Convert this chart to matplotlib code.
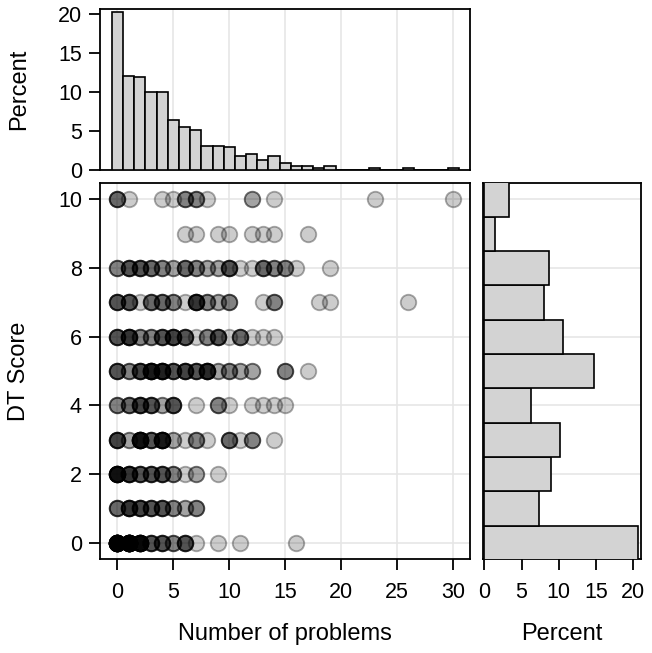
import numpy as np
import matplotlib
matplotlib.use("Agg")
import matplotlib.pyplot as plt

plt.rcParams['font.family'] = ['Liberation Sans', 'DejaVu Sans']

# Top histogram: percent of cases by number of problems (bins of width 1)
problems_bins = list(range(31))
problems_pct = [20.3, 12.1, 11.9, 10.0, 10.0, 6.4, 5.5, 5.2, 3.1, 3.1,
                2.9, 1.8, 2.0, 1.3, 1.8, 0.95, 0.45, 0.45, 0.2, 0.45,
                0, 0, 0, 0.2, 0, 0, 0.2, 0, 0, 0, 0.2]

# Right histogram: percent of cases by DT score
score_bins = list(range(11))
score_pct = [20.7, 7.3, 8.9, 10.2, 6.3, 14.7, 10.6, 8.05, 8.7, 1.45, 3.3]

# Scatter: (score, number of problems, number of overlapping cases)
dot_score = ([10] * 11 + [9] * 8 + [8] * 18 + [7] * 16 + [6] * 15 + [5] * 15
             + [4] * 13 + [3] * 13 + [2] * 9 + [1] * 8 + [0] * 11)
dot_problems = [0, 1, 4, 5, 6, 7, 8, 12, 14, 23, 30,
                6, 7, 9, 10, 12, 13, 14, 17,
                0, 1, 2, 3, 4, 5, 6, 7, 8, 9, 10, 11, 12, 13, 14, 15, 16, 19,
                0, 1, 2, 3, 4, 5, 6, 7, 8, 9, 10, 13, 14, 18, 19, 26,
                0, 1, 2, 3, 4, 5, 6, 7, 8, 9, 10, 11, 12, 13, 14,
                0, 1, 2, 3, 4, 5, 6, 7, 8, 9, 10, 11, 12, 15, 17,
                0, 1, 2, 3, 4, 5, 7, 9, 10, 12, 13, 14, 15,
                0, 1, 2, 3, 4, 5, 6, 7, 8, 10, 11, 12, 14,
                0, 1, 2, 3, 4, 5, 6, 7, 9,
                0, 1, 2, 3, 4, 5, 6, 7,
                0, 1, 2, 3, 4, 5, 6, 7, 9, 11, 16]
dot_count = [4, 1, 1, 1, 3, 3, 1, 2, 1, 1, 1,
             1, 1, 1, 1, 1, 1, 1, 1,
             3, 5, 5, 4, 3, 2, 4, 3, 2, 2, 5, 1, 1, 4, 3, 3, 1, 1,
             5, 5, 1, 4, 4, 3, 1, 7, 3, 2, 3, 1, 3, 1, 1, 1,
             5, 7, 3, 3, 5, 6, 5, 1, 3, 5, 1, 4, 1, 1, 1,
             5, 3, 6, 10, 9, 5, 6, 5, 8, 2, 3, 2, 2, 3, 1,
             3, 4, 6, 5, 2, 5, 1, 3, 1, 1, 1, 1, 1,
             6, 2, 12, 5, 10, 2, 1, 3, 1, 4, 1, 3, 1,
             12, 7, 5, 5, 5, 3, 1, 2, 1,
             4, 7, 6, 5, 5, 3, 2, 3,
             30, 28, 15, 5, 5, 3, 5, 1, 1, 1, 1]

W, H = 652, 653
fig = plt.figure(figsize=(W / 100, H / 100), dpi=100)

def rect(left, top, right, bottom):
    return [left / W, 1 - bottom / H, (right - left) / W, (bottom - top) / H]

ax = fig.add_axes(rect(100, 183.3, 470, 559.3))
ax_top = fig.add_axes(rect(100, 9.3, 470, 170))
ax_right = fig.add_axes(rect(483.3, 183.3, 640.7, 559.3))

grid_col = '#e6e6e6'
bar_col = '#d3d3d3'
for a in (ax, ax_top, ax_right):
    for s in a.spines.values():
        s.set_linewidth(1.3)
        s.set_color('black')
    a.tick_params(direction='out', length=8, width=1.3, labelsize=15.5, pad=5)
    a.tick_params(axis='x', pad=8)
    a.set_axisbelow(True)

# main scatter
xs = np.repeat(dot_problems, dot_count)
ys = np.repeat(dot_score, dot_count)
ax.scatter(xs, ys, s=125, facecolor=(0, 0, 0, 0.2), edgecolor=(0, 0, 0, 0.33),
           linewidth=1.3, zorder=3)
ax.set_xlim(-1.55, 31.5)
ax.set_ylim(-0.48, 10.47)
ax.set_xticks([0, 5, 10, 15, 20, 25, 30])
ax.set_yticks([0, 2, 4, 6, 8, 10])
ax.grid(True, color=grid_col, linewidth=1.2)
ax.set_xlabel('Number of problems', fontsize=17, labelpad=15)
ax.set_ylabel('DT Score', fontsize=17, labelpad=20)

# top histogram
ax_top.bar(problems_bins, problems_pct, width=1.0, color=bar_col,
           edgecolor='black', linewidth=1.2, zorder=3)
ax_top.set_xlim(-1.55, 31.5)
ax_top.set_ylim(0, 20.65)
ax_top.set_xticks([0, 5, 10, 15, 20, 25, 30])
ax_top.set_yticks([0, 5, 10, 15, 20])
ax_top.tick_params(axis='x', length=0, labelbottom=False)
ax_top.grid(True, axis='x', color=grid_col, linewidth=1.2)
ax_top.set_ylabel('Percent', fontsize=17, labelpad=20)

# right histogram
ax_right.barh(score_bins, score_pct, height=1.0, color=bar_col,
              edgecolor='black', linewidth=1.2, zorder=3)
ax_right.set_ylim(-0.48, 10.47)
ax_right.set_xlim(-0.13, 21.0)
ax_right.set_xticks([0, 5, 10, 15, 20])
ax_right.set_yticks([0, 2, 4, 6, 8, 10])
ax_right.tick_params(axis='y', length=0, labelleft=False)
ax_right.grid(True, axis='y', color=grid_col, linewidth=1.2)
ax_right.set_xlabel('Percent', fontsize=17, labelpad=15)

fig.savefig('out.png', dpi=100)
